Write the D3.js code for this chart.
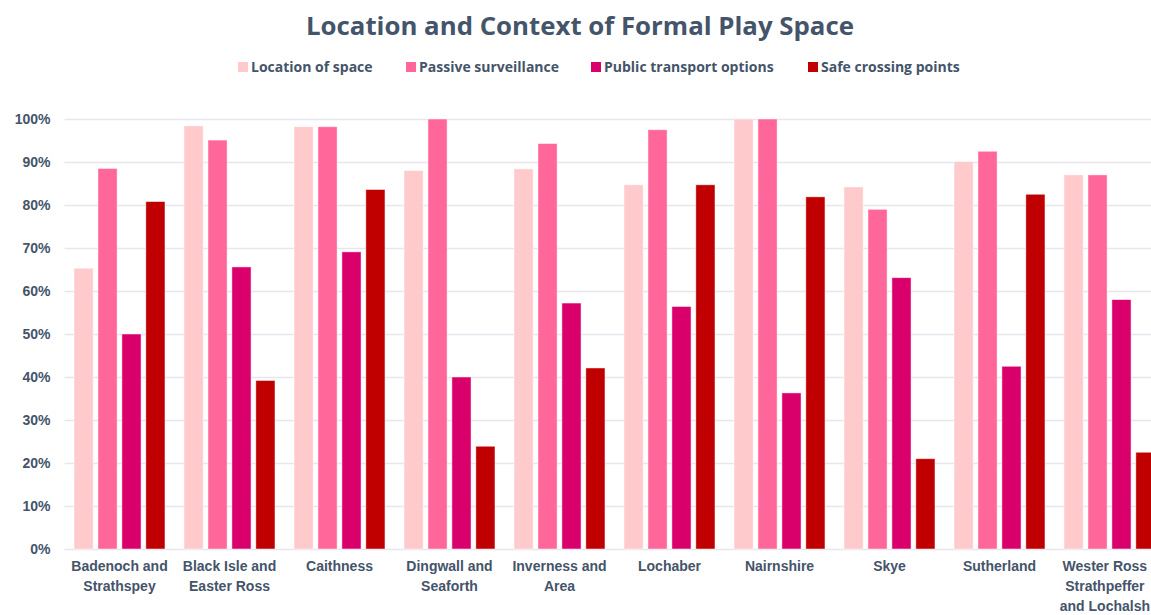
<!DOCTYPE html>
<html>
<head>
<meta charset="utf-8">
<title>Location and Context of Formal Play Space</title>
<script src="https://d3js.org/d3.v7.min.js"></script>
<style>
  body { margin: 0; background: #fff; font-family: "Open Sans", Arial, sans-serif; }
  .tick text { fill: #44546a; font-weight: bold; }
</style>
</head>
<body>
<div id="chart"></div>
<script>
// chart data
var areas = ["Badenoch and Strathspey", "Black Isle and Easter Ross", "Caithness", "Dingwall and Seaforth",
             "Inverness and Area", "Lochaber", "Nairnshire", "Skye", "Sutherland",
             "Wester Ross Strathpeffer and Lochalsh"];
var areaLines = [["Badenoch and", "Strathspey"], ["Black Isle and", "Easter Ross"], ["Caithness"],
                 ["Dingwall and", "Seaforth"], ["Inverness and", "Area"], ["Lochaber"], ["Nairnshire"],
                 ["Skye"], ["Sutherland"], ["Wester Ross", "Strathpeffer", "and Lochalsh"]];
var seriesNames = ["Location of space", "Passive surveillance", "Public transport options", "Safe crossing points"];
var locationOfSpace    = [0.653, 0.984, 0.982, 0.880, 0.884, 0.847, 1.000, 0.842, 0.901, 0.870];
var passiveSurveillance = [0.885, 0.951, 0.982, 1.000, 0.943, 0.975, 1.000, 0.790, 0.925, 0.870];
var publicTransport    = [0.500, 0.656, 0.691, 0.400, 0.572, 0.564, 0.363, 0.631, 0.425, 0.580];
var safeCrossing       = [0.808, 0.392, 0.836, 0.239, 0.421, 0.847, 0.819, 0.210, 0.825, 0.225];
var yTicks = [0, 0.1, 0.2, 0.3, 0.4, 0.5, 0.6, 0.7, 0.8, 0.9, 1.0];

var series = [locationOfSpace, passiveSurveillance, publicTransport, safeCrossing];
var colors = ["#fecacb", "#ff6699", "#da006c", "#c00000"];

var width = 1151, height = 615;
var margin = {top: 119, left: 64.5, bottom: 66};
var plotRight = 1164.5;

var svg = d3.select("#chart").append("svg")
    .attr("width", width)
    .attr("height", height);

// title
svg.append("text")
    .attr("x", 580)
    .attr("y", 35)
    .attr("text-anchor", "middle")
    .style("font-size", "25.8px")
    .style("font-weight", "bold")
    .style("fill", "#44546a")
    .text("Location and Context of Formal Play Space");

var x0 = d3.scaleBand()
    .domain(areas)
    .range([margin.left, plotRight])
    .paddingInner(0.173)
    .paddingOuter(0.0865);

var x1 = d3.scaleBand()
    .domain(d3.range(series.length))
    .range([0, x0.bandwidth()])
    .paddingInner(0.2);

var y = d3.scaleLinear()
    .domain([0, 1])
    .range([height - margin.bottom, margin.top]);

// gridlines
svg.append("g")
    .selectAll("line")
    .data(yTicks)
    .enter().append("line")
    .attr("x1", margin.left)
    .attr("x2", width)
    .attr("y1", function(d) { return Math.round(y(d)) + 0.5; })
    .attr("y2", function(d) { return Math.round(y(d)) + 0.5; })
    .style("stroke", "#e6e7ee")
    .style("stroke-width", 1.3);

// y axis
var yAxis = svg.append("g")
    .attr("transform", "translate(" + (margin.left - 14) + ",0)")
    .call(d3.axisLeft(y).tickValues(yTicks).tickFormat(d3.format(".0%")).tickSize(0).tickPadding(0));
yAxis.select(".domain").remove();
yAxis.selectAll("text").style("font-size", "14px").attr("font-family", null);

// bars
var groups = svg.append("g")
    .selectAll("g")
    .data(areas)
    .enter().append("g")
    .attr("transform", function(d) { return "translate(" + x0(d) + ",0)"; });

groups.selectAll("rect")
    .data(function(d, i) { return series.map(function(s, j) { return {k: j, v: s[i]}; }); })
    .enter().append("rect")
    .attr("x", function(d) { return x1(d.k); })
    .attr("y", function(d) { return y(d.v); })
    .attr("width", x1.bandwidth())
    .attr("height", function(d) { return y(0) - y(d.v); })
    .style("fill", function(d) { return colors[d.k]; })
    .style("stroke", "#fff")
    .style("stroke-opacity", 0.6)
    .style("stroke-width", 0.8);

// x axis labels
var xAxis = svg.append("g")
    .attr("transform", "translate(0," + (height - margin.bottom + 13) + ")")
    .call(d3.axisBottom(x0).tickSize(0).tickPadding(0).tickFormat(""));
xAxis.select(".domain").remove();
xAxis.selectAll(".tick").each(function(d, i) {
    var t = d3.select(this).select("text")
        .attr("y", 0)
        .attr("dy", null)
        .attr("font-family", null)
        .style("font-size", "14px");
    areaLines[i].forEach(function(line, k) {
        t.append("tspan")
            .attr("x", 0)
            .attr("y", 9 + k * 20)
            .text(line);
    });
    // keep the last label inside the picture
    var cx = x0(d) + x0.bandwidth() / 2;
    var bb = this.getBBox();
    var over = cx + bb.x + bb.width - (width - 1);
    if (over > 0) t.attr("transform", "translate(" + (-over) + ",0)");
});

// legend
var legendX = [238, 406, 591, 808];
var legend = svg.append("g")
    .selectAll("g")
    .data(seriesNames)
    .enter().append("g")
    .attr("transform", function(d, i) { return "translate(" + legendX[i] + ",67)"; });
legend.append("rect")
    .attr("x", 0).attr("y", -5)
    .attr("width", 10).attr("height", 10)
    .style("fill", function(d, i) { return colors[i]; });
legend.append("text")
    .attr("x", 13)
    .attr("dy", "0.35em")
    .style("font-size", "14px")
    .style("font-weight", "bold")
    .style("fill", "#44546a")
    .text(function(d) { return d; });
</script>
</body>
</html>
